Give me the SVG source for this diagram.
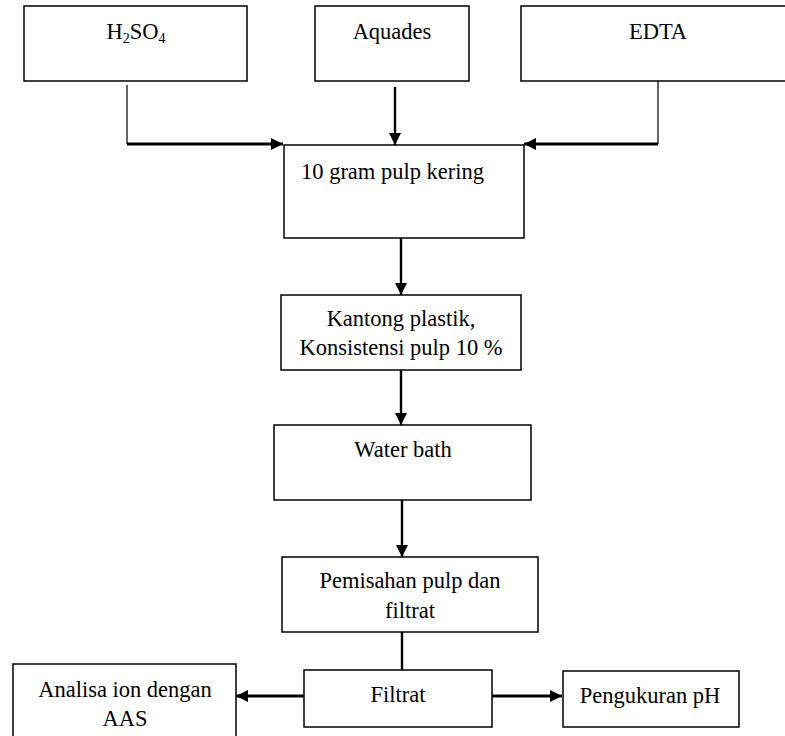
<svg xmlns="http://www.w3.org/2000/svg" width="785" height="736" viewBox="0 0 785 736">
<style>
.box{fill:#fff;stroke:#000;stroke-width:1.5}
text{font-family:Liberation Serif,DejaVu Serif,serif;font-size:22.5px;fill:#000}
.c{text-anchor:middle}
.thin{stroke:#000;stroke-width:1.2;fill:none}
.thick{stroke:#000;stroke-width:2.8;fill:none}
.med{stroke:#000;stroke-width:2.4;fill:none}
</style>
<defs>
<marker id="ah" markerUnits="userSpaceOnUse" markerWidth="12" markerHeight="12" viewBox="0 0 12 12" refX="12" refY="6" orient="auto">
<path d="M0,0 L12,6 L0,12 Z" fill="#000"/>
</marker>
</defs>
<rect width="785" height="736" fill="#fff"/>
<g id="connectors">
<line class="thin" x1="127" y1="85" x2="127" y2="144"/>
<line class="thick" x1="127" y1="144" x2="283" y2="144" marker-end="url(#ah)"/>
<line class="med" x1="395" y1="87" x2="395" y2="145" marker-end="url(#ah)"/>
<line class="thin" x1="658" y1="81" x2="658" y2="144"/>
<line class="thick" x1="658" y1="144" x2="524" y2="144" marker-end="url(#ah)"/>
<line class="med" x1="401" y1="238" x2="401" y2="295" marker-end="url(#ah)"/>
<line class="med" x1="401" y1="370" x2="401" y2="425" marker-end="url(#ah)"/>
<line class="med" x1="402" y1="500" x2="402" y2="557" marker-end="url(#ah)"/>
<line class="med" x1="402" y1="632" x2="402" y2="670"/>
<line class="thick" x1="304" y1="696" x2="236" y2="696" marker-end="url(#ah)"/>
<line class="thick" x1="492" y1="696" x2="562" y2="696" marker-end="url(#ah)"/>
</g>
<g id="h2so4">
<rect class="box" x="24" y="6" width="223" height="75"/>
<text class="c" x="136" y="39">H<tspan font-size="14" dy="4">2</tspan><tspan dy="-4">SO</tspan><tspan font-size="14" dy="4">4</tspan></text>
</g>
<g id="aquades">
<rect class="box" x="315" y="6" width="154" height="75"/>
<text class="c" x="392" y="39">Aquades</text>
</g>
<g id="edta">
<rect class="box" x="521" y="6" width="272" height="75"/>
<text class="c" x="658" y="39">EDTA</text>
</g>
<g id="pulp-kering">
<rect class="box" x="284" y="145" width="240" height="93"/>
<text x="301" y="179">10 gram pulp kering</text>
</g>
<g id="kantong">
<rect class="box" x="281" y="295" width="240" height="75"/>
<text class="c" x="401" y="326">Kantong plastik,</text>
<text class="c" x="401" y="355">Konsistensi pulp 10 %</text>
</g>
<g id="water-bath">
<rect class="box" x="274" y="425" width="257" height="75"/>
<text class="c" x="403" y="457">Water bath</text>
</g>
<g id="pemisahan">
<rect class="box" x="282" y="557" width="256" height="75"/>
<text class="c" x="410" y="588">Pemisahan pulp dan</text>
<text class="c" x="410" y="618">filtrat</text>
</g>
<g id="filtrat">
<rect class="box" x="304" y="670" width="188" height="57"/>
<text class="c" x="398" y="702">Filtrat</text>
</g>
<g id="analisa">
<rect class="box" x="13" y="664" width="223" height="80"/>
<text class="c" x="125" y="697">Analisa ion dengan</text>
<text class="c" x="125" y="726">AAS</text>
</g>
<g id="pengukuran">
<rect class="box" x="563" y="671" width="176" height="56"/>
<text class="c" x="650" y="703">Pengukuran pH</text>
</g>
</svg>
